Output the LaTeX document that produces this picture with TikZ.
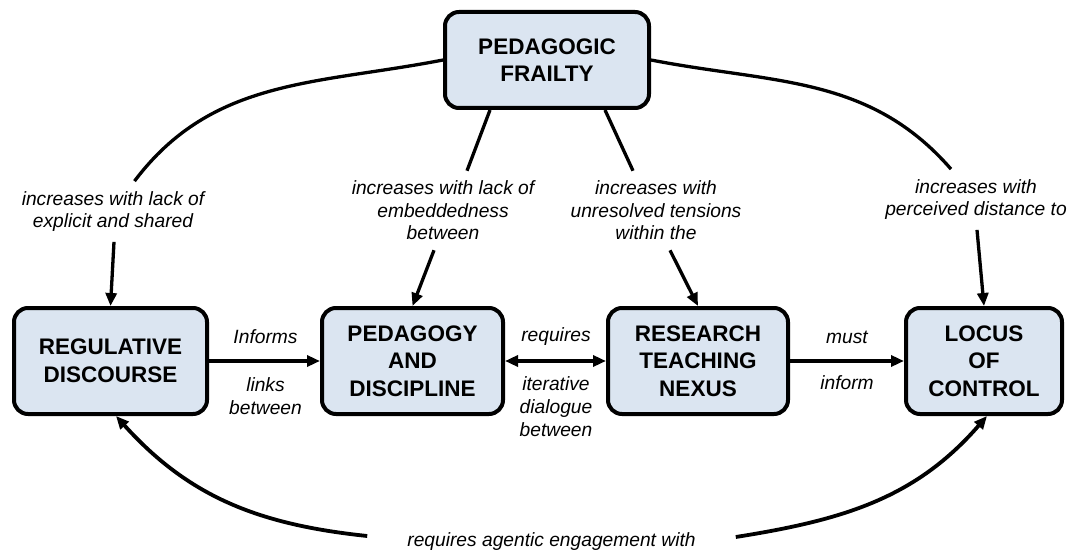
\documentclass[tikz,border=0pt]{standalone}
\usepackage{fontspec}
\setmainfont{Liberation Sans}
\usetikzlibrary{arrows.meta}
\definecolor{boxfill}{RGB}{219,229,241}
\begin{document}
\begin{tikzpicture}[x=1pt,y=1pt,
  box/.style={draw, line width=4pt, rounded corners=14pt, fill=boxfill,
    font=\fontsize{22.5}{27.5}\selectfont\bfseries, align=center, inner sep=0pt},
  lbl/.style={font=\fontsize{19.2}{22.5}\selectfont\itshape, align=center, inner sep=10pt},
  elbl/.style={font=\fontsize{19.2}{23}\selectfont\itshape, align=center, inner sep=0pt},
  conn/.style={line width=3.3pt},
  arr/.style={conn, -{Triangle[length=13pt,width=11pt]}},
  darr/.style={conn, {Triangle[length=13pt,width=11pt]}-{Triangle[length=13pt,width=11pt]}}]
\useasboundingbox[fill=white] (0,0) rectangle (1068,550);

% concepts
\node[box, minimum width=204pt, minimum height=96pt] (frailty) at (547,490) {PEDAGOGIC\\FRAILTY};
\node[box, minimum width=193pt, minimum height=106pt] (reg) at (110.5,189) {REGULATIVE\\DISCOURSE};
\node[box, minimum width=181pt, minimum height=106pt] (ped) at (412.5,189) {PEDAGOGY\\AND\\DISCIPLINE};
\node[box, minimum width=180pt, minimum height=106pt] (res) at (698,189) {RESEARCH\\TEACHING\\NEXUS};
\node[box, minimum width=156pt, minimum height=106pt] (loc) at (984,189) {LOCUS\\OF\\CONTROL};

% linking phrases
\node[lbl] (l1) at (113,338.5) {increases with lack of\\explicit and shared};
\node[lbl] (l2) at (443,339.5) {increases with lack of\\embeddedness\\between};
\node[lbl] (l3) at (656,339.5) {increases with\\unresolved tensions\\within the};
\node[lbl] (l4) at (976,350.5) {increases with\\perceived distance to};
\node[lbl, inner xsep=40pt, inner ysep=2pt] (l5) at (551.5,8) {requires agentic engagement with};

\node[elbl] (t1) at (265.5,213) {Informs};
\node[elbl] (b1) at (265.5,153.5) {links\\between};
\node[elbl] (t2) at (556,213) {requires};
\node[elbl] (b2) at (556,143.5) {iterative\\dialogue\\between};
\node[elbl] (t3) at (847,213) {must};
\node[elbl] (b3) at (847,167) {inform};

% connectors from the top concept
\draw[conn] (frailty.west) to[out=191,in=53] ([xshift=21.5pt]l1.north);
\draw[arr] ([xshift=1pt]l1.south) -- (reg.north);
\draw[conn] ([xshift=-57pt]frailty.south) -- ([xshift=24pt]l2.north);
\draw[arr] ([xshift=-9pt]l2.south) -- (ped.north);
\draw[conn] ([xshift=58pt]frailty.south) -- ([xshift=-23pt]l3.north);
\draw[arr] ([xshift=14pt]l3.south) -- (res.north);
\draw[conn] (frailty.east) to[out=-11,in=131] ([xshift=-25pt]l4.north);
\draw[arr] ([xshift=1pt]l4.south) -- (loc.north);

% horizontal connectors
\draw[arr] (reg.east) -- (ped.west);
\draw[darr] (ped.east) -- (res.west);
\draw[arr] (res.east) -- (loc.west);

% bottom connectors
\draw[arr, line width=3.8pt] ([yshift=6pt]l5.west) to[out=174,in=-48] ([xshift=5.5pt]reg.south);
\draw[arr, line width=3.8pt] ([yshift=5pt]l5.east) to[out=9,in=229] ([xshift=3pt]loc.south);
\end{tikzpicture}
\end{document}
